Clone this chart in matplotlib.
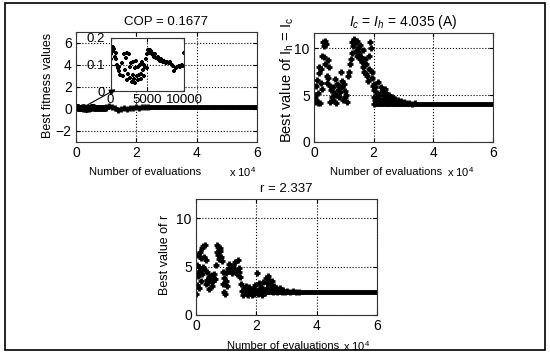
"""
Optimisation history: COP, Ih = Ic and r versus number of evaluations
"""

import matplotlib
matplotlib.use('Agg')
import matplotlib.pyplot as plt
from matplotlib.patches import Rectangle
from matplotlib.ticker import FuncFormatter

# ---- data ----
# fitness, first 10000 evaluations (also the inset)
early_evals = [0, 100, 200, 300, 400, 500, 600, 700, 800, 900, 1000, 1100, 1200,
               1300, 1500, 1700, 1900, 2000, 2100, 2200, 2300, 2400, 2500, 2600,
               2700, 2800, 2900, 3000, 3100, 3200, 3300, 3400, 3500, 3600, 3700,
               3800, 3900, 4000, 4100, 4200, 4300, 4400, 4500, 4600, 4700, 4800,
               4900, 5000, 5100, 5200, 5300, 5400, 5500, 5600, 5700, 5800, 5900,
               6000, 6200, 6400, 6500, 6700, 6900, 7100, 7300, 7500, 7700, 7900,
               8100, 8300, 8500, 8700, 8900, 9100, 9300, 9500, 9700, 9900, 10000]
early_fitness = [0.12, 0.14, 0.155, 0.165, 0.15, 0.16, 0.13, 0.145, 0.12, 0.10,
                 0.085, 0.075, 0.09, 0.06, 0.105, 0.055, 0.14, 0.08, 0.125, 0.145,
                 0.04, 0.065, 0.14, 0.09, 0.05, 0.105, 0.035, 0.11, 0.06, 0.045,
                 0.085, 0.03, 0.115, 0.055, 0.04, 0.09, 0.06, 0.10, 0.065, 0.045,
                 0.11, 0.08, 0.055, 0.10, 0.09, 0.12, 0.085, 0.14, 0.155, 0.15,
                 0.145, 0.155, 0.15, 0.14, 0.145, 0.135, 0.13, 0.14, 0.125, 0.13,
                 0.12, 0.115, 0.12, 0.11, 0.115, 0.105, 0.11, 0.105, 0.11, 0.10,
                 0.095, 0.075, 0.085, 0.09, 0.095, 0.09, 0.10, 0.095, 0.143]
late_evals = [11000, 12000, 13000, 14000, 15000, 16000, 17000, 18000, 19000,
              20000, 21000, 22000, 23000, 24000]
late_fitness = [0.30, 0.15, 0.05, -0.05, 0.0, 0.10, 0.0, 0.10, 0.05, 0.15, 0.12,
                0.16, 0.15, 0.17]
fitness_tail_evals = [24000, 60000]
cop_final = 0.1677

# Ih = Ic
ih_evals = [0, 200, 400, 600, 800, 1000, 1200, 1400, 1600, 1800, 2000, 2200, 2400,
            2600, 2800, 3000, 3200, 3400, 3600, 3800, 4000, 4200, 4400, 4600, 4800,
            5000, 5200, 5500, 5800, 6000, 6300, 6500, 6800, 7000, 7300, 7500, 7800,
            8000, 8300, 8500, 8800, 9000, 9300, 9500, 9800, 10000, 10300, 10500,
            10800, 11000, 11300, 11600, 12000, 12300, 12600, 12900, 13200, 13500,
            13800, 14000, 14300, 14500, 14800, 15000, 15300, 15500, 15800, 16000,
            16300, 16500, 16800, 17000, 17300, 17500, 17800, 18000, 18300, 18500,
            18800, 19000, 19300, 19500, 19800, 20000, 20000, 20000, 20100, 20300,
            20500, 20800, 21000, 21300, 21500, 21800, 22000, 22300, 22500, 22800,
            23000, 23300, 23500, 23800, 24000, 24300, 24500, 24800, 25000, 25500,
            26000, 26500, 27000, 27500, 28000, 28500, 29000, 29500, 30000, 31000,
            32000, 33000, 34000]
ih_values = [5.0, 4.8, 4.3, 6.0, 4.5, 6.6, 5.2, 4.2, 8.0, 7.3, 4.1, 6.3, 7.8, 5.6,
             9.2, 10.6, 10.2, 9.0, 10.8, 8.3, 10.4, 7.0, 6.3, 8.7, 6.8, 8.0, 6.0,
             4.3, 5.5, 4.8, 5.9, 4.5, 5.2, 6.7, 5.0, 4.2, 6.2, 5.5, 4.8, 6.0, 5.3,
             7.4, 6.5, 5.8, 4.5, 6.2, 5.4, 4.8, 5.0, 4.3, 7.0, 7.5, 8.3, 8.8, 9.5,
             10.6, 10.2, 11.0, 10.5, 9.7, 10.8, 9.2, 10.0, 9.5, 8.8, 10.3, 9.0, 8.5,
             9.8, 8.0, 7.5, 8.8, 7.2, 8.3, 7.0, 6.5, 7.8, 9.2, 10.6, 10.0, 7.5, 6.8,
             6.0, 4.0, 4.8, 5.5, 6.2, 4.5, 5.8, 4.2, 5.2, 6.4, 4.6, 5.0, 4.1, 5.8,
             4.5, 5.4, 4.3, 5.0, 4.8, 5.6, 4.2, 5.2, 4.6, 4.1, 5.0, 4.4, 4.8, 4.2,
             4.6, 4.1, 4.5, 4.2, 4.4, 4.1, 4.3, 4.1, 4.2, 4.05, 4.1]
ih_tail_evals = [20000, 60000]
ih_final = 4.035

# r
r_evals = [0, 0, 200, 300, 500, 700, 900, 1000, 1200, 1400, 1500, 1700, 1900, 2000,
           2200, 2400, 2600, 2800, 3000, 3200, 3400, 3600, 3800, 4000, 4200, 4400,
           4600, 4800, 5000, 5200, 5400, 5600, 5800, 6000, 6200, 6500, 6800, 7000,
           7200, 7400, 7600, 7800, 8000, 8200, 8500, 8800, 9000, 9200, 9400, 9600,
           9800, 10000, 10300, 10600, 11000, 11300, 11600, 12000, 12300, 12600,
           12900, 13200, 13500, 13800, 14100, 14400, 14700, 15000, 15300, 15600,
           15900, 16200, 16500, 16800, 17100, 17400, 17700, 18000, 18300, 18600,
           18900, 19200, 19500, 19800, 20100, 20400, 20700, 21000, 21300, 21600,
           21900, 22200, 22500, 22800, 23100, 23400, 23700, 24000, 24300, 24600,
           24900, 25200, 25500, 25800, 26100, 26400, 26700, 27000, 27500, 28000,
           28500, 29000, 29500, 30000, 31000, 32000, 33000, 34000]
r_values = [4.3, 2.2, 5.2, 3.1, 6.2, 4.0, 5.0, 2.8, 6.5, 4.6, 3.5, 5.9, 4.2, 6.9,
            5.0, 7.1, 6.0, 4.8, 7.2, 3.2, 5.7, 3.6, 4.4, 3.4, 2.7, 3.9, 3.5, 4.0,
            3.6, 3.0, 4.1, 3.8, 3.5, 4.2, 3.7, 5.2, 6.5, 7.2, 6.2, 7.0, 5.8, 6.6,
            6.9, 6.0, 5.6, 4.5, 3.2, 3.8, 2.4, 2.2, 3.5, 4.3, 3.0, 4.8, 5.3, 4.6,
            5.0, 4.3, 5.1, 4.8, 5.5, 4.6, 4.2, 5.7, 4.5, 4.9, 3.9, 3.2, 2.5, 2.1,
            2.8, 2.3, 3.0, 2.2, 2.6, 2.1, 2.9, 2.3, 2.5, 2.1, 2.7, 2.2, 3.1, 2.4,
            4.3, 2.6, 2.2, 3.3, 2.5, 2.9, 2.1, 3.4, 2.6, 2.3, 3.8, 3.3, 2.8, 4.0,
            3.6, 3.2, 2.7, 3.5, 2.4, 3.0, 2.5, 2.8, 2.4, 2.7, 2.5, 2.8, 2.4, 2.6,
            2.4, 2.5, 2.4, 2.45, 2.4, 2.38]
r_tail_evals = [16000, 60000]
r_final = 2.337

x_ticks = [0, 20000, 40000, 60000]

plt.rcParams['font.family'] = ['Liberation Sans', 'DejaVu Sans']
plt.rcParams['mathtext.fontset'] = 'custom'
plt.rcParams['mathtext.rm'] = 'Liberation Sans'
plt.rcParams['mathtext.it'] = 'Liberation Sans:italic'


def style_axes(ax, size=10):
    ax.tick_params(direction='in', length=3, labelsize=size, pad=3,
                   top=True, right=True)
    ax.grid(True, linestyle=':', color='k', linewidth=0.8)
    for sp in ax.spines.values():
        sp.set_linewidth(0.8)
        sp.set_color('#333333')


def ten4(v, pos):
    return '%g' % (v / 1e4)


def history(ax, evals, values, tail_evals, final):
    ax.plot(tail_evals, [final] * len(tail_evals), color='k', lw=3.5,
            solid_capstyle='butt')
    ax.plot(evals, values, 'k+', ms=4.5, mew=2)
    ax.set_xlim(0, 60000)
    ax.set_xticks(x_ticks)
    ax.xaxis.set_major_formatter(FuncFormatter(ten4))


def xlabel_pair(x_label, x_exp, y):
    fig.text(x_label / 550, 1 - y / 364, 'Number of evaluations', fontsize=8,
             ha='center', va='center')
    fig.text(x_exp / 550, 1 - y / 364, r'x 10$^4$', fontsize=8,
             ha='center', va='center')


fig = plt.figure(figsize=(5.5, 3.64), dpi=100)

# ---- top left: fitness ----
ax1 = fig.add_axes([76 / 550, 1 - 142 / 364, 181 / 550, 110 / 364])
history(ax1, early_evals + late_evals, early_fitness + late_fitness,
        fitness_tail_evals, cop_final)
ax1.set_ylim(-3, 7)
ax1.set_yticks([-2, 0, 2, 4, 6])
style_axes(ax1)
ax1.set_title('COP = %.4f' % cop_final, fontsize=9.5, pad=5)

# inset
ax_in = fig.add_axes([110.5 / 550, 1 - 91 / 364, 73.5 / 550, 53 / 364])
ax_in.plot(early_evals, early_fitness, 'k+', ms=3.5, mew=1.6)
ax_in.set_xlim(0, 10000)
ax_in.set_ylim(0, 0.2)
ax_in.set_xticks([0, 5000, 10000])
ax_in.set_yticks([0, 0.1, 0.2])
ax_in.set_yticklabels(['0', '0.1', '0.2'])
style_axes(ax_in, 9.5)
ax_in.tick_params(axis='x', pad=2)
ax_in.tick_params(axis='y', pad=4)
ax_in.annotate('', xy=(118, 276), xytext=(82, 256), xycoords='figure pixels',
               textcoords='figure pixels', annotation_clip=False,
               arrowprops=dict(arrowstyle='-|>', color='k', lw=0.8,
                               mutation_scale=9))

fig.text(48 / 550, 1 - 85 / 364, 'Best fitness values', rotation=90,
         fontsize=9, ha='center', va='center')
xlabel_pair(145, 243, 172)

# ---- top right: Ih = Ic ----
ax2 = fig.add_axes([314 / 550, 1 - 142 / 364, 179 / 550, 109 / 364])
history(ax2, ih_evals, ih_values, ih_tail_evals, ih_final)
ax2.set_ylim(0, 11.6)
ax2.set_yticks([0, 5, 10])
style_axes(ax2)
ax2.set_title(r'$I_c$ = $I_h$ = %.3f (A)' % ih_final, fontsize=10, pad=5)
fig.text(287 / 550, 1 - 80 / 364, r'Best value of I$_\mathrm{h}$ = I$_\mathrm{c}$',
         rotation=90, fontsize=10.5, ha='center', va='center')
xlabel_pair(386, 461, 172)

# ---- bottom: r ----
ax3 = fig.add_axes([196 / 550, 1 - 315 / 364, 181 / 550, 116 / 364])
history(ax3, r_evals, r_values, r_tail_evals, r_final)
ax3.set_ylim(0, 12)
ax3.set_yticks([0, 5, 10])
style_axes(ax3)
ax3.set_title('r = %.3f' % r_final, fontsize=9.5, pad=5)
fig.text(165 / 550, 1 - 255 / 364, 'Best value of r', rotation=90,
         fontsize=9, ha='center', va='center')
xlabel_pair(283, 357, 346)

# frame around the whole figure
fig.add_artist(Rectangle((5 / 550, 1 - 350 / 364), 540 / 550, 347 / 364,
                         transform=fig.transFigure, fill=False,
                         edgecolor='k', linewidth=1.2))

fig.savefig('out.png', dpi=100)
